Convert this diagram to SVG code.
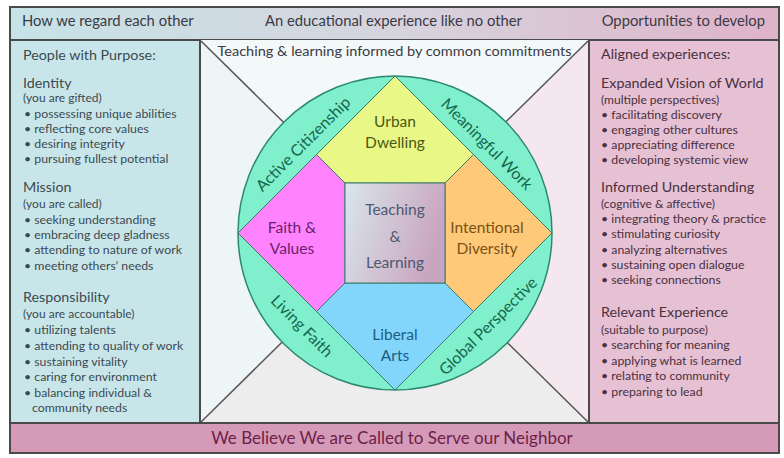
<svg xmlns="http://www.w3.org/2000/svg" width="784" height="458" viewBox="0 0 784 458">
<defs>
<linearGradient id="topg" x1="0" y1="0" x2="1" y2="0">
<stop offset="0" stop-color="#c6e3e7"/>
<stop offset="0.5" stop-color="#d6d4de"/>
<stop offset="1" stop-color="#dfb3c9"/>
</linearGradient>
<linearGradient id="sqg" x1="0" y1="0" x2="1" y2="0.3">
<stop offset="0" stop-color="#d9e6ec"/>
<stop offset="1" stop-color="#c9a6c0"/>
</linearGradient>
<style>
text{font-family:Lato,"Open Sans","Liberation Sans",sans-serif;}
.bar{font-size:14.8px;fill:#3a3a44;}
.h{font-size:14.3px;fill:#3c4a50;}
.s{font-size:12px;fill:#3c4a50;}
.b{font-size:12.3px;fill:#3c4a50;}
.hr{font-size:14.3px;fill:#4a3040;}
.sr{font-size:12px;fill:#4a3040;}
.br{font-size:12.3px;fill:#4a3040;}
.ring{font-size:16px;fill:#17664c;text-anchor:middle;}
.in{font-size:15.5px;text-anchor:middle;}
.frame{stroke:#4a4a4a;stroke-width:2;}
.xl{stroke:#555;stroke-width:1.5;fill:none;}
.seg{stroke:#3a7a6a;stroke-width:1;}
</style>
</defs>
<rect x="0" y="0" width="784" height="458" fill="#ffffff"/>

<g id="top-bar">
<rect x="10" y="7" width="769" height="33" fill="url(#topg)" class="frame"/>
<text class="bar" x="22" y="26">How we regard each other</text>
<text class="bar" x="393.5" y="26" text-anchor="middle">An educational experience like no other</text>
<text class="bar" x="765" y="26" text-anchor="end">Opportunities to develop</text>
</g>

<g id="center-panel">
<polygon points="200,40 589,40 394.5,231.5" fill="#f3f9f9"/>
<polygon points="200,40 200,423 394.5,231.5" fill="#eef5f7"/>
<polygon points="589,40 589,423 394.5,231.5" fill="#f5e7ee"/>
<polygon points="200,423 589,423 394.5,231.5" fill="#ededed"/>
</g>

<g id="connectors">
<line class="xl" x1="201" y1="41" x2="394.5" y2="231.5"/>
<line class="xl" x1="588" y1="41" x2="394.5" y2="231.5"/>
<line class="xl" x1="201" y1="422" x2="394.5" y2="231.5"/>
<line class="xl" x1="588" y1="422" x2="394.5" y2="231.5"/>
</g>

<g id="commitments-label">
<text x="394.5" y="56" text-anchor="middle" style="font-size:13px;fill:#3a3a44" textLength="354" lengthAdjust="spacingAndGlyphs">Teaching &amp; learning informed by common commitments</text>
</g>

<g id="left-panel">
<rect x="10" y="40" width="190" height="383" fill="#c8e6ea" class="frame"/>
<text class="h" x="23" y="60">People with Purpose:</text>
<text class="h" x="23" y="88">Identity</text>
<text class="s" x="23" y="102">(you are gifted)</text>
<text class="b" x="24" y="118">• possessing unique abilities</text>
<text class="b" x="24" y="133">• reflecting core values</text>
<text class="b" x="24" y="148">• desiring integrity</text>
<text class="b" x="24" y="163">• pursuing fullest potential</text>
<text class="h" x="23" y="192">Mission</text>
<text class="s" x="23" y="208">(you are called)</text>
<text class="b" x="24" y="224">• seeking understanding</text>
<text class="b" x="24" y="239">• embracing deep gladness</text>
<text class="b" x="24" y="254">• attending to nature of work</text>
<text class="b" x="24" y="270">• meeting others’ needs</text>
<text class="h" x="23" y="302">Responsibility</text>
<text class="s" x="23" y="318">(you are accountable)</text>
<text class="b" x="24" y="334">• utilizing talents</text>
<text class="b" x="24" y="350">• attending to quality of work</text>
<text class="b" x="24" y="366">• sustaining vitality</text>
<text class="b" x="24" y="381">• caring for environment</text>
<text class="b" x="24" y="397">• balancing individual &amp;</text>
<text class="b" x="32" y="412">community needs</text>
</g>

<g id="right-panel">
<rect x="589" y="40" width="190" height="383" fill="#e6c1d4" class="frame"/>
<text class="hr" x="601" y="59">Aligned experiences:</text>
<text class="hr" x="601" y="88">Expanded Vision of World</text>
<text class="sr" x="601" y="104">(multiple perspectives)</text>
<text class="br" x="601" y="119">• facilitating discovery</text>
<text class="br" x="601" y="134">• engaging other cultures</text>
<text class="br" x="601" y="149">• appreciating difference</text>
<text class="br" x="601" y="164">• developing systemic view</text>
<text class="hr" x="601" y="192">Informed Understanding</text>
<text class="sr" x="601" y="208">(cognitive &amp; affective)</text>
<text class="br" x="601" y="223">• integrating theory &amp; practice</text>
<text class="br" x="601" y="238">• stimulating curiosity</text>
<text class="br" x="601" y="254">• analyzing alternatives</text>
<text class="br" x="601" y="269">• sustaining open dialogue</text>
<text class="br" x="601" y="284">• seeking connections</text>
<text class="hr" x="601" y="317">Relevant Experience</text>
<text class="sr" x="601" y="334">(suitable to purpose)</text>
<text class="br" x="601" y="349">• searching for meaning</text>
<text class="br" x="601" y="365">• applying what is learned</text>
<text class="br" x="601" y="380">• relating to community</text>
<text class="br" x="601" y="396">• preparing to lead</text>
</g>

<g id="bottom-bar">
<rect x="10" y="423" width="769" height="30" fill="#d59ab7" class="frame"/>
<text x="392" y="444" text-anchor="middle" style="font-size:17px;fill:#6e1f48">We Believe We are Called to Serve our Neighbor</text>
</g>

<g id="ring">
<circle cx="395" cy="233" r="157" fill="#80f0cc" stroke="#2e8870" stroke-width="1.5"/>
<text class="ring" transform="translate(307,148) rotate(-45)">Active Citizenship</text>
<text class="ring" transform="translate(483,148) rotate(45)">Meaningful Work</text>
<text class="ring" transform="translate(298,330) rotate(45)">Living Faith</text>
<text class="ring" transform="translate(492,330) rotate(-45)">Global Perspective</text>
</g>

<g id="urban-dwelling">
<polygon class="seg" points="395,76 316.5,154.5 345,183 445,183 473.5,154.5" fill="#e9f787"/>
<text class="in" x="395" y="127" fill="#4b5a12">Urban</text>
<text class="in" x="395" y="148" fill="#4b5a12">Dwelling</text>
</g>

<g id="faith-values">
<polygon class="seg" points="316.5,154.5 238,233 316.5,311.5 345,283 345,183" fill="#ff82ff"/>
<text class="in" x="292" y="233" fill="#6a1f6a">Faith &amp;</text>
<text class="in" x="292" y="254" fill="#6a1f6a">Values</text>
</g>

<g id="intentional-diversity">
<polygon class="seg" points="473.5,154.5 552,233 473.5,311.5 445,283 445,183" fill="#ffc97a"/>
<text class="in" x="487" y="233" fill="#7a5212">Intentional</text>
<text class="in" x="487" y="254" fill="#7a5212">Diversity</text>
</g>

<g id="liberal-arts">
<polygon class="seg" points="345,283 316.5,311.5 395,390 473.5,311.5 445,283" fill="#82d6fb"/>
<text class="in" x="395" y="340" fill="#1d5b82">Liberal</text>
<text class="in" x="395" y="361" fill="#1d5b82">Arts</text>
</g>

<g id="teaching-learning">
<rect class="seg" x="345" y="183" width="100" height="100" fill="url(#sqg)"/>
<text class="in" x="395" y="215" fill="#4f5870">Teaching</text>
<text class="in" x="395" y="242" fill="#4f5870">&amp;</text>
<text class="in" x="395" y="268" fill="#4f5870">Learning</text>
</g>
</svg>
